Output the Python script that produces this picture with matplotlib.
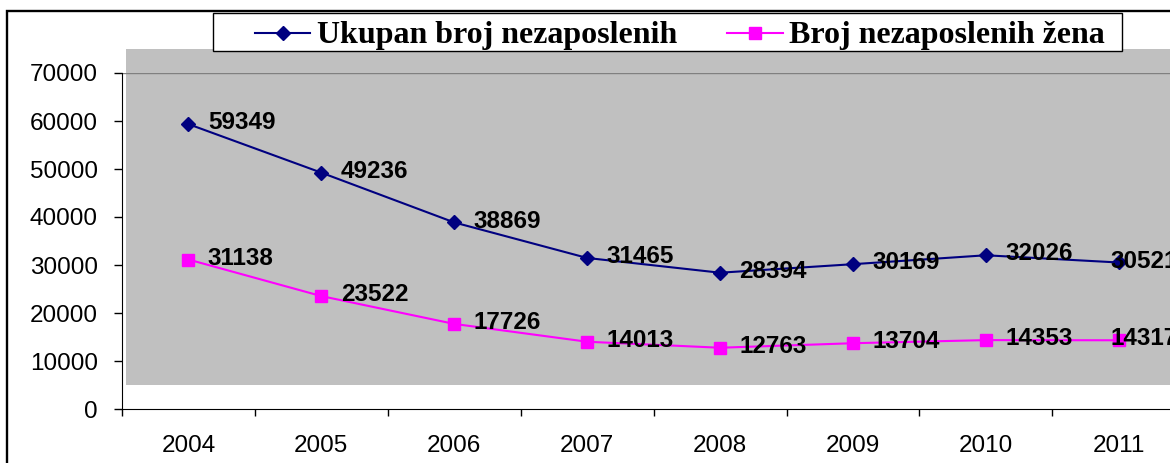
import matplotlib.pyplot as plt
from matplotlib.patches import Rectangle
from matplotlib.lines import Line2D

plt.rcParams['font.family'] = ['Liberation Sans', 'DejaVu Sans']

years = ['2004', '2005', '2006', '2007', '2008', '2009', '2010', '2011']
ukupno = [59349, 49236, 38869, 31465, 28394, 30169, 32026, 30521]
zene = [31138, 23522, 17726, 14013, 12763, 13704, 14353, 14317]
series_names = ['Ukupan broj nezaposlenih', 'Broj nezaposlenih žena']
y_ticks = [0, 10000, 20000, 30000, 40000, 50000, 60000, 70000]

W, H = 1170, 463
fig = plt.figure(figsize=(W / 100, H / 100), dpi=100)

# plot area (pixels) - the last category runs past the right edge, as in the original
x0, cat_w = 122, 132.9
ax = fig.add_axes([x0 / W, (H - 409) / H, len(years) * cat_w / W, (409 - 73) / H])
ax.set_facecolor('none')
ax.set_xlim(-0.5, len(years) - 0.5)
ax.set_ylim(0, 70000)

# grey plot background (offset from the axes, Excel style)
ax.add_patch(Rectangle((-0.47, 5000), len(years) + 1, 70000, facecolor='#c0c0c0',
                       edgecolor='none', zorder=0, clip_on=False))
ax.axhline(70000, color='#808080', lw=1, zorder=1)

styles = [dict(color='#000080', lw=1.5, marker='D', markersize=6.8),
          dict(color='#ff00ff', lw=1.5, marker='s', markersize=8.9)]

xs = range(len(years))
ax.plot(xs, ukupno, zorder=3, **styles[0])
ax.plot(xs, zene, zorder=3, **styles[1])

for vals in (ukupno, zene):
    for i, v in enumerate(vals):
        dx = 14 if i < len(vals) - 1 else -6
        ax.annotate(str(v), (i, v), xytext=(dx, 1), textcoords='offset points',
                    ha='left', va='center', fontsize=17.5, fontweight='bold',
                    color='black', zorder=4, annotation_clip=False)

for s in ('top', 'right'):
    ax.spines[s].set_visible(False)
ax.spines['left'].set_color('black')
ax.spines['bottom'].set_color('black')

ax.set_yticks(y_ticks)
ax.set_yticklabels([str(t) for t in y_ticks])
ax.tick_params(axis='y', direction='out', length=6, width=1, pad=11.5, labelsize=17.5)

ax.set_xticks(list(xs))
ax.set_xticklabels(years)
ax.set_xticks([k - 0.5 for k in range(len(years) + 1)], minor=True)
ax.tick_params(axis='x', which='major', length=0, pad=19, labelsize=17.5)
ax.tick_params(axis='x', which='minor', direction='out', length=5, width=1)

# legend, laid out by hand like the Excel one
fig.patches.append(Rectangle((213 / W, 1 - 51 / H), (1122 - 213) / W, 38 / H,
                             transform=fig.transFigure, facecolor='white',
                             edgecolor='black', lw=1, zorder=5))
for (h0, h1, tx), name, st in zip([(255, 310, 317), (727, 783, 789)], series_names, styles):
    fig.lines.append(Line2D([h0 / W, h1 / W], [1 - 33 / H] * 2, transform=fig.transFigure,
                            markevery=[], zorder=6, color=st['color'], lw=st['lw']))
    fig.lines.append(Line2D([(h0 + h1) / 2 / W], [1 - 33 / H], transform=fig.transFigure,
                            zorder=6, linestyle='none', marker=st['marker'],
                            markersize=st['markersize'], color=st['color']))
    fig.text(tx / W, 1 - 43 / H, name, family='Liberation Serif', weight='bold',
             size=23, va='baseline', ha='left', zorder=7)

# outer chart border
fig.patches.append(Rectangle((7 / W, -0.1), 1.2, 1.1 - 11 / H, transform=fig.transFigure,
                             fill=False, edgecolor='black', lw=1.7))

fig.savefig('out.png', dpi=100)
